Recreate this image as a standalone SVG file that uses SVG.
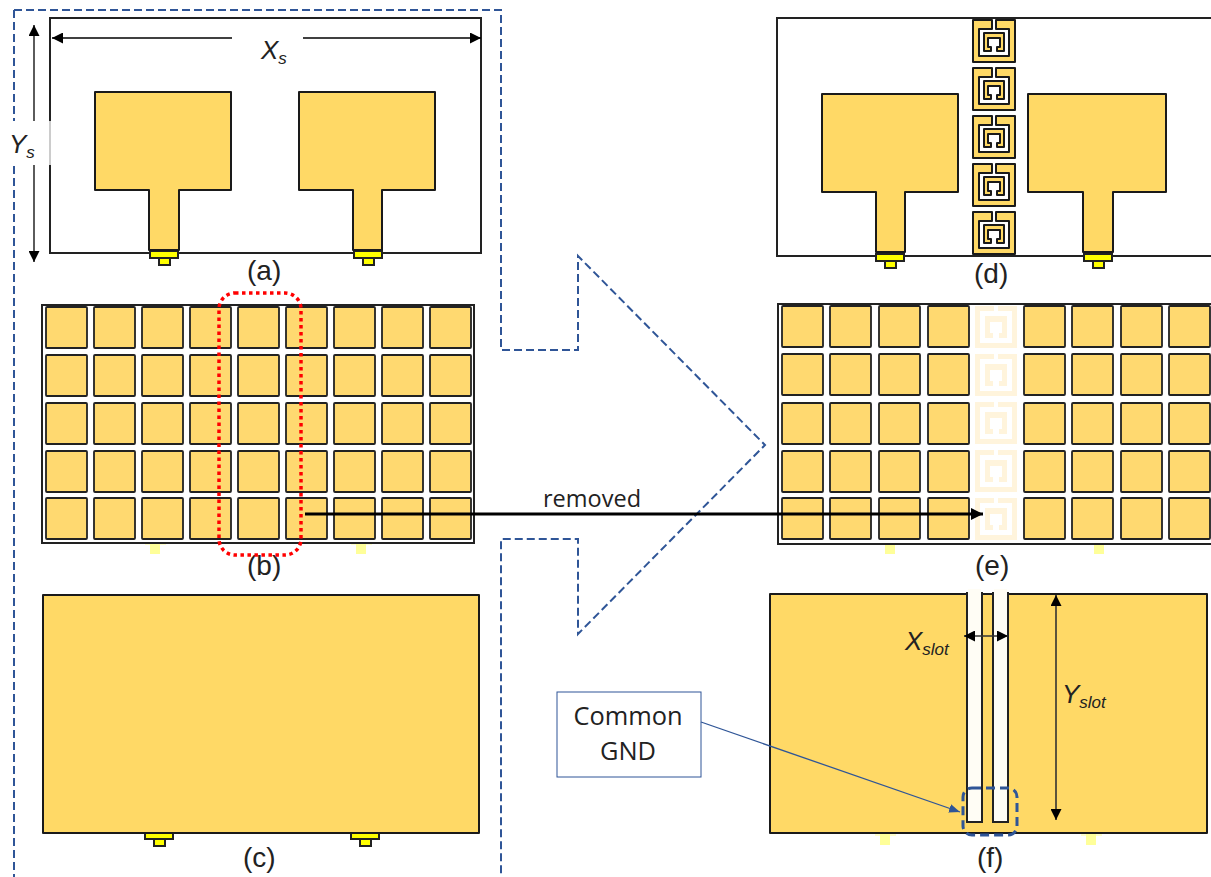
<svg xmlns="http://www.w3.org/2000/svg" width="1211" height="877" viewBox="0 0 1211 877">
<style>
.g{fill:#ffd966;stroke:#1a1a1a;stroke-width:2;stroke-linejoin:round}
.t{font-family:"Open Sans","Liberation Sans",Arial,sans-serif;font-size:25.4px;fill:#222}
.m{font-family:"Liberation Sans",Arial,sans-serif;font-size:24px;fill:#222}
.l{font-family:"Liberation Sans",Arial,sans-serif;font-size:28px;fill:#222}
.i{font-style:italic}
.s{font-size:17px}
.dim{stroke:#333;stroke-width:1.6;fill:none;marker-start:url(#ah);marker-end:url(#ah)}
.y{fill:#ffff00;stroke:#222;stroke-width:2}
.py{fill:#ffff99}
.cell{fill:#ffd970;stroke:#222;stroke-width:1.8}
.gh{fill:#fff4dc}
.box{fill:#fff;stroke:#222;stroke-width:2}
</style>
<defs>
<marker id="ah" viewBox="0 0 10 10" refX="10" refY="5" markerWidth="11" markerHeight="11" markerUnits="userSpaceOnUse" orient="auto-start-reverse"><path d="M0 0L10 5L0 10Z" fill="#000"/></marker>
<marker id="kh" viewBox="0 0 10 10" refX="10" refY="5" markerWidth="12" markerHeight="12" markerUnits="userSpaceOnUse" orient="auto"><path d="M0 0L10 5L0 10Z" fill="#000"/></marker>
<marker id="bh" viewBox="0 0 10 10" refX="10" refY="5" markerWidth="11" markerHeight="11" markerUnits="userSpaceOnUse" orient="auto"><path d="M0 1L10 5L0 9Z" fill="#2f5597"/></marker>
<g id="srr">
<path d="M0 0H19V9H6V36H36V9H23V0H42V42H0Z" class="g"/>
<path d="M11 13H31V31H24V27H27V18H15V27H18V31H11Z" class="g"/>
</g>
<g id="ghost">
<path d="M0 0H19V5H5V37H37V5H23V0H42V42H0Z" class="gh"/>
<path d="M10 10H32V32H24V27H27V16H15V27H18V32H10Z" class="gh"/>
</g>
<g id="port">
<rect x="0" y="0" width="28" height="7" class="y"/>
<rect x="9" y="7" width="11" height="7" class="y"/>
</g>
<g id="pale">
<rect x="0" y="0" width="21" height="4" class="py" opacity="0.5"/>
<rect x="5" y="2" width="10" height="11" class="py"/>
</g>
<rect id="c" width="41" height="41" rx="1" class="cell"/>
</defs>

<g id="node-a">
<rect x="50" y="18" width="431" height="235" class="box"/>
<use href="#port" x="150" y="251"/><use href="#port" x="354" y="251"/>
<path d="M95 92H231V190H179V250H149V190H95Z" class="g"/>
<path d="M299 92H435V190H382V250H353V190H299Z" class="g"/>
<text x="247" y="280" class="l">(a)</text>
</g>

<g id="node-b">
<use href="#pale" x="145" y="541"/><use href="#pale" x="351" y="541"/>
<rect x="42" y="305" width="432" height="238" class="box"/>
<use href="#c" x="46" y="307"/><use href="#c" x="94" y="307"/><use href="#c" x="142" y="307"/><use href="#c" x="190" y="307"/><use href="#c" x="238" y="307"/><use href="#c" x="286" y="307"/><use href="#c" x="334" y="307"/><use href="#c" x="382" y="307"/><use href="#c" x="430" y="307"/>
<use href="#c" x="46" y="355"/><use href="#c" x="94" y="355"/><use href="#c" x="142" y="355"/><use href="#c" x="190" y="355"/><use href="#c" x="238" y="355"/><use href="#c" x="286" y="355"/><use href="#c" x="334" y="355"/><use href="#c" x="382" y="355"/><use href="#c" x="430" y="355"/>
<use href="#c" x="46" y="403"/><use href="#c" x="94" y="403"/><use href="#c" x="142" y="403"/><use href="#c" x="190" y="403"/><use href="#c" x="238" y="403"/><use href="#c" x="286" y="403"/><use href="#c" x="334" y="403"/><use href="#c" x="382" y="403"/><use href="#c" x="430" y="403"/>
<use href="#c" x="46" y="451"/><use href="#c" x="94" y="451"/><use href="#c" x="142" y="451"/><use href="#c" x="190" y="451"/><use href="#c" x="238" y="451"/><use href="#c" x="286" y="451"/><use href="#c" x="334" y="451"/><use href="#c" x="382" y="451"/><use href="#c" x="430" y="451"/>
<use href="#c" x="46" y="498"/><use href="#c" x="94" y="498"/><use href="#c" x="142" y="498"/><use href="#c" x="190" y="498"/><use href="#c" x="238" y="498"/><use href="#c" x="286" y="498"/><use href="#c" x="334" y="498"/><use href="#c" x="382" y="498"/><use href="#c" x="430" y="498"/>
<text x="247" y="575" class="l">(b)</text>
</g>

<g id="node-c">
<use href="#port" x="145" y="832"/><use href="#port" x="351" y="832"/>
<rect x="43" y="595" width="436" height="238" class="g"/>
<text x="243" y="867" class="l">(c)</text>
</g>

<g id="node-d">
<rect x="777" y="18" width="436" height="238" class="box"/>
<use href="#port" x="876" y="254"/><use href="#port" x="1084" y="254"/>
<path d="M822 94H958V192H905V252H876V192H822Z" class="g"/>
<path d="M1028 94H1166V192H1113V252H1083V192H1028Z" class="g"/>
<use href="#srr" x="973" y="20"/><use href="#srr" x="973" y="68"/><use href="#srr" x="973" y="116"/><use href="#srr" x="973" y="164"/><use href="#srr" x="973" y="212"/>
<text x="974" y="283" class="l">(d)</text>
</g>

<g id="node-e">
<use href="#pale" x="880" y="541"/><use href="#pale" x="1089" y="541"/>
<rect x="778" y="304" width="435" height="240" class="box"/>
<use href="#ghost" x="975" y="306"/><use href="#ghost" x="975" y="354"/><use href="#ghost" x="975" y="402"/><use href="#ghost" x="975" y="450"/><use href="#ghost" x="975" y="498"/>
<use href="#c" x="782" y="306"/><use href="#c" x="830" y="306"/><use href="#c" x="879" y="306"/><use href="#c" x="928" y="306"/><use href="#c" x="1024" y="306"/><use href="#c" x="1072" y="306"/><use href="#c" x="1121" y="306"/><use href="#c" x="1169" y="306"/>
<use href="#c" x="782" y="354"/><use href="#c" x="830" y="354"/><use href="#c" x="879" y="354"/><use href="#c" x="928" y="354"/><use href="#c" x="1024" y="354"/><use href="#c" x="1072" y="354"/><use href="#c" x="1121" y="354"/><use href="#c" x="1169" y="354"/>
<use href="#c" x="782" y="403"/><use href="#c" x="830" y="403"/><use href="#c" x="879" y="403"/><use href="#c" x="928" y="403"/><use href="#c" x="1024" y="403"/><use href="#c" x="1072" y="403"/><use href="#c" x="1121" y="403"/><use href="#c" x="1169" y="403"/>
<use href="#c" x="782" y="451"/><use href="#c" x="830" y="451"/><use href="#c" x="879" y="451"/><use href="#c" x="928" y="451"/><use href="#c" x="1024" y="451"/><use href="#c" x="1072" y="451"/><use href="#c" x="1121" y="451"/><use href="#c" x="1169" y="451"/>
<use href="#c" x="782" y="498"/><use href="#c" x="830" y="498"/><use href="#c" x="879" y="498"/><use href="#c" x="928" y="498"/><use href="#c" x="1024" y="498"/><use href="#c" x="1072" y="498"/><use href="#c" x="1121" y="498"/><use href="#c" x="1169" y="498"/>
<text x="975" y="575" class="l">(e)</text>
</g>

<g id="node-f">
<use href="#pale" x="875" y="832"/><use href="#pale" x="1081" y="832"/>
<rect x="770" y="594" width="437" height="239" class="g"/>
<path d="M967 593V822H982V593ZM993 593V822H1008V593Z" fill="#fffdf5" stroke="#222" stroke-width="2"/>
<rect x="968" y="589" width="13" height="6" fill="#fffdf5"/>
<rect x="994" y="589" width="13" height="6" fill="#fffdf5"/>
<text x="977" y="867" class="l">(f)</text>
<text x="905" y="650" class="m i" style="font-size:26px">X<tspan class="s" dy="5">slot</tspan></text>
<text x="1062" y="703" class="m i" style="font-size:26px">Y<tspan class="s" dy="5">slot</tspan></text>
</g>

<g id="node-common-gnd">
<rect x="557" y="692" width="144" height="85" fill="#fff" stroke="#2f5597" stroke-width="1"/>
<text x="628" y="725" text-anchor="middle" class="t">Common</text>
<text x="628" y="760" text-anchor="middle" class="t">GND</text>
</g>

<g id="node-arrow-outline">
<path d="M14 10H501V350H578V256L765 445L578 634V539H501V877M14 10V877" fill="none" stroke="#2f5597" stroke-width="2" stroke-dasharray="8 4"/>
</g>

<g id="connectors">
<path d="M232 38H52" class="dim" style="marker-start:none;stroke:#000"/>
<path d="M303 38H481" class="dim" style="marker-start:none;stroke:#000"/>
<path d="M34 25V262" class="dim"/>
<path d="M305 514H983" fill="none" stroke="#000" stroke-width="3" marker-end="url(#kh)"/>
<path d="M964 636H1008" class="dim"/>
<path d="M1056 595V820" class="dim"/>
<path d="M701 722L960 812" fill="none" stroke="#2f5597" stroke-width="1.3" marker-end="url(#bh)"/>
<rect x="219" y="293" width="82" height="262" rx="16" fill="none" stroke="#ff0000" stroke-width="3.5" stroke-dasharray="3.5 3.5"/>
<rect x="963" y="788" width="54" height="47" rx="9" fill="none" stroke="#2f5597" stroke-width="3" stroke-dasharray="9 5"/>
<text x="543" y="507" class="t" style="font-size:23.5px">removed</text>
</g>

<g id="node-ys-label">
<rect x="8" y="121" width="41" height="44" fill="#fff"/>
<rect x="49" y="121" width="2" height="44" fill="#fff"/>
<path d="M50 121V165" stroke="#999" stroke-width="1"/>
<text x="9" y="153" class="m i" style="font-size:26px">Y<tspan class="s" dy="5">s</tspan></text>
</g>
<g id="node-xs-label">
<text x="261" y="59" class="m i" style="font-size:26px">X<tspan class="s" dy="5">s</tspan></text>
</g>
</svg>
